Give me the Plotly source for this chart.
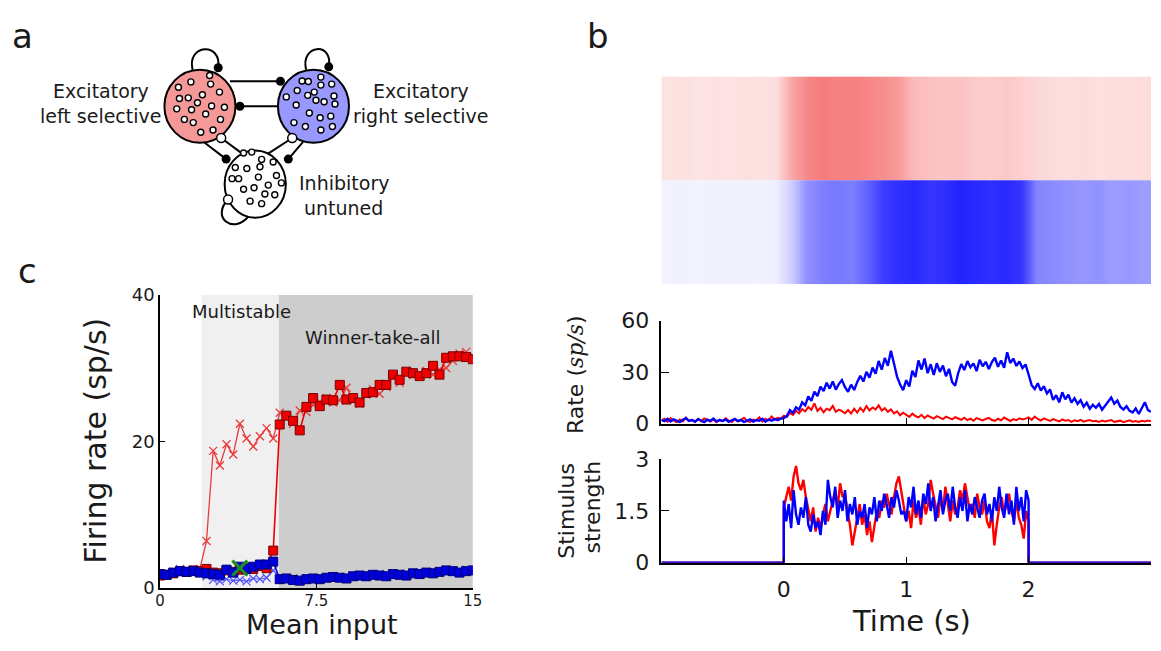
import plotly.graph_objects as go

W, H = 1161, 651
FONT = "DejaVu Sans"
TXT = "#1a1a1a"

# ---------------- panel c: firing rate vs mean input ----------------
mean_input = [0.0, 0.32, 0.64, 0.96, 1.28, 1.6, 1.91, 2.23, 2.55, 2.87, 3.19, 3.51, 3.83, 4.15, 4.47, 4.79,
              5.11, 5.43, 5.74, 6.06, 6.38, 6.7, 7.02, 7.34, 7.66, 7.98, 8.3, 8.62, 8.94, 9.26, 9.57, 9.89,
              10.21, 10.53, 10.85, 11.17, 11.49, 11.81, 12.13, 12.45, 12.77, 13.09, 13.4, 13.72, 14.04, 14.36,
              14.68, 15.0]
red_squares = [1.7, 1.8, 2.0, 2.3, 2.2, 2.4, 2.3, 2.6, 2.1, 2.0, 2.4, 2.2, 2.5, 2.7, 2.6, 3.0, 2.7, 5.1,
               22.3, 23.5, 22.8, 21.5, 24.7, 25.9, 24.8, 25.7, 25.6, 27.7, 25.7, 25.9, 25.3, 26.6, 26.7, 27.7,
               27.7, 29.1, 28.4, 29.5, 29.3, 28.9, 29.3, 30.3, 29.1, 31.4, 31.6, 31.6, 31.5, 31.2]
red_crosses = [1.6, 1.9, 2.2, 2.4, 2.3, 2.5, 2.6, 6.4, 18.7, 16.7, 19.6, 18.2, 22.4, 20.4, 19.3, 20.7,
               21.8, 20.4, 23.9, 23.5, 22.4, 24.2, 24.0, 25.0, 25.4, 25.9, 25.3, 25.6, 27.3, 25.8, 25.1, 26.4,
               27.1, 26.5, 27.4, 28.8, 28.0, 29.6, 29.0, 29.2, 29.6, 29.1, 29.8, 30.0, 31.0, 32.0, 32.2, 31.6]
blue_squares = [1.9, 1.8, 2.1, 2.3, 2.2, 2.3, 2.1, 2.0, 1.9, 1.8, 2.5, 2.1, 2.9, 2.6, 2.9, 3.2, 3.2, 3.6,
                1.2, 1.3, 1.1, 1.0, 1.2, 1.3, 1.2, 1.4, 1.5, 1.4, 1.3, 1.6, 1.7, 1.6, 1.8, 1.7, 1.6, 1.9,
                1.8, 1.7, 2.0, 1.9, 2.1, 2.0, 2.2, 2.4, 2.3, 2.1, 2.3, 2.4]
blue_crosses = [1.8, 2.0, 2.2, 2.6, 2.4, 2.3, 2.2, 1.6, 1.1, 0.9, 1.2, 1.0, 1.1, 0.9, 1.3, 1.2, 1.4, 2.4,
                1.4, 1.2, 1.3, 1.1, 1.3, 1.2, 1.4, 1.3, 1.6, 1.5, 1.4, 1.7, 1.6, 1.8, 1.7, 1.9, 1.8, 1.7,
                2.0, 1.9, 2.1, 2.0, 2.2, 2.1, 2.3, 2.5, 2.2, 2.4, 2.5, 2.3]
green_point_x = [3.83]
green_point_y = [2.7]
regime_edges = [2.0, 5.7, 15.0]          # multistable / winner-take-all boundaries
regime_labels = ["Multistable", "Winner-take-all"]

# ---------------- panel b: rates over time ----------------
t_rate = [round(-1 + 0.025 * i, 3) for i in range(161)]  # sample times (s)
blue_rate = [2.1, 1.4, 2.8, 1.2, 2.5, 1.7, 0.9, 2.2, 3.1, 1.5, 2.0, 1.1, 2.6, 1.8, 0.8, 2.3, 1.6, 2.9, 1.3, 2.0,
             1.5, 2.4, 1.0, 1.9, 2.7, 1.4, 2.2, 0.9, 1.8, 2.5, 1.2, 2.0, 1.6, 2.8, 1.1, 2.3, 1.7, 2.6, 2.0, 2.9,
             3.2, 4.5, 7.8, 6.2, 9.5, 8.1, 12.4, 10.6, 15.8, 13.2, 18.6, 16.0, 21.5, 18.9, 23.8, 20.4, 24.6, 19.8,
             23.1, 25.4, 21.2, 18.5, 22.7, 19.6, 24.3, 27.8, 24.5, 30.2, 26.8, 32.6, 29.1, 36.5, 31.4, 38.2, 33.7,
             42.5, 35.0, 27.4, 22.8, 19.5,
             25.3, 21.6, 30.8, 27.2, 36.8, 31.5, 37.9, 29.4, 34.6, 28.3, 35.2, 30.1, 33.8, 27.6, 31.9, 24.2, 22.0,
             29.5, 34.7, 31.2, 36.4, 32.8, 35.1, 30.6, 37.2, 33.4, 36.0, 31.8, 35.9, 38.4, 33.1, 36.8, 32.5, 41.6,
             35.3, 37.9, 33.6, 36.2, 32.4, 34.5,
             28.6, 22.4, 20.1, 23.5, 19.2, 21.8, 17.6, 19.9, 13.8, 16.5, 12.4, 18.2, 14.1, 16.9, 12.2, 14.8, 11.5,
             13.6, 9.8, 12.1, 8.6, 10.9, 9.2, 11.4, 8.1, 10.5, 12.8, 15.2, 11.6, 13.4, 9.7, 8.2, 10.1, 7.4, 6.5,
             8.8, 5.6, 9.3, 12.4, 7.8, 6.9]
red_rate = [1.5, 2.8, 1.0, 3.2, 1.8, 0.8, 2.4, 1.2, 3.5, 1.6, 2.1, 0.9, 2.7, 1.3, 3.0, 1.9, 1.1, 2.5, 0.7, 2.2,
            1.4, 3.1, 1.7, 0.9, 2.6, 1.3, 2.0, 3.4, 1.5, 1.0, 2.3, 1.8, 3.6, 1.2, 2.7, 1.9, 4.1, 2.4, 3.3, 2.8,
            4.6, 3.8, 6.2, 5.1, 7.5, 6.0, 8.4, 7.1, 9.6, 8.0, 11.8, 7.4, 9.2, 6.5, 8.7, 7.8, 10.3, 6.9, 8.1, 7.2,
            6.0, 7.9, 5.8, 8.6, 6.4, 9.1, 7.0, 10.2, 7.7, 9.4, 8.3, 10.6, 7.6, 9.0, 6.8, 8.2, 5.9, 7.1, 4.8, 6.3,
            5.2, 3.9, 5.8, 4.4, 3.6, 5.1, 3.2, 4.7, 3.8, 2.9, 4.3, 3.5, 2.6, 4.0, 3.1, 2.4, 3.7, 2.8, 2.2, 3.4,
            2.0, 2.9, 1.7, 3.2, 2.5, 1.8, 2.7, 3.3, 2.1, 1.6, 2.8, 1.9, 3.5, 2.3, 1.5, 2.6, 2.0, 3.0, 2.4, 2.9,
            3.6, 2.2, 4.1, 2.7, 1.8, 3.0, 2.3, 1.5, 2.6, 1.9, 1.2, 2.4, 1.7, 2.1, 1.0, 1.9, 1.4, 2.2, 1.1, 1.7,
            2.0, 1.3, 1.6, 0.9, 1.8, 1.2, 1.5, 2.1, 1.0, 1.4, 1.7, 0.8, 1.3, 1.9, 1.1, 1.5, 0.9, 1.6, 1.2, 1.8,
            1.4]

# ---------------- panel b: stimulus strength (on between 0 and 2 s) ----------------
t_stim = [round(0.02 * i, 2) for i in range(101)]  # sample times (s)
red_stim = [1.6, 1.9, 2.2, 1.8, 2.5, 2.8, 2.3, 2.1, 2.4, 1.9, 1.5, 1.2, 1.6, 0.9, 1.3, 1.0, 1.4, 1.7, 1.2, 1.5,
            1.8, 2.1, 1.6, 2.3, 1.9, 2.0, 1.5, 1.1, 0.5, 0.9, 1.3, 1.7, 1.1, 1.4, 0.8, 1.2, 0.6, 1.0, 1.5, 1.3,
            1.8, 1.6, 2.0, 1.7, 1.4, 1.9, 2.3, 2.5, 2.1, 1.6, 1.2, 1.5, 1.0, 1.8, 1.3, 1.6, 1.1, 1.9, 1.4, 1.7,
            2.4, 2.0, 1.6, 1.3, 1.9, 1.5, 2.2, 1.7, 1.2, 1.8, 1.4, 1.6, 2.1, 1.8, 2.3, 1.9, 1.5, 1.7, 1.3, 2.0,
            1.6, 1.4, 1.8, 1.2, 1.0, 1.5, 0.5, 1.1, 1.6, 1.9, 1.4, 1.7, 2.0, 1.5, 1.2, 1.8, 1.3, 1.1, 0.7, 1.5,
            1.2]
blue_stim = [1.8, 1.2, 1.7, 1.0, 2.1, 1.4, 1.1, 1.6, 1.3, 1.9, 1.1, 0.9, 1.4, 1.0, 1.2, 0.8, 1.5, 1.1, 2.4, 1.9,
             1.6, 2.2, 1.3, 1.8, 1.5, 2.1, 1.2, 1.7, 1.4, 1.9, 1.1, 1.5, 1.3, 1.7, 1.0, 1.6, 1.4, 1.9, 1.2, 1.8,
             1.5, 2.0, 1.7, 1.3, 1.9, 1.6, 2.1, 1.8, 1.4, 1.5, 1.2, 1.9, 1.6, 2.2, 1.4, 1.8, 1.3, 2.0, 1.7, 2.3,
             1.5, 1.9, 1.2, 1.7, 2.1, 1.4, 1.8, 2.0, 1.5, 2.2, 1.6, 1.3, 1.9, 1.5, 2.1, 1.2, 1.7, 1.4, 1.9, 1.6,
             1.3, 1.8, 2.0, 1.4, 1.7, 1.2, 1.9, 1.5, 2.2, 1.6, 1.3, 2.0, 1.4, 1.8, 1.1, 2.2, 1.5, 1.9, 1.2, 2.1,
             1.8]

# ---------------- panel b: raster spike density (per 0.125 s bin) ----------------
raster_t = [round(-0.9375 + 0.125 * i, 4) for i in range(32)]  # bin centres (s)
red_density = [2.3, 2.5, 2.1, 2.4, 2.2, 2.6, 2.3, 2.7, 7.0, 9.5, 10.5, 10.0, 10.2, 9.6, 9.0, 8.0,
               5.5, 5.0, 4.6, 4.8, 4.2, 4.0, 4.4, 3.8, 3.2, 2.8, 2.6, 2.9, 2.5, 2.7, 2.6, 2.8]
blue_density = [2.0, 2.2, 1.9, 2.3, 2.1, 2.2, 2.0, 2.8, 8.0, 18.0, 21.0, 22.0, 21.0, 26.0, 32.0, 34.0,
                35.0, 33.0, 34.0, 36.0, 35.0, 34.0, 35.0, 33.0, 20.0, 19.0, 18.0, 17.0, 18.0, 16.0, 17.0, 16.0]

# ---------------- panel a: network diagram (pixel layout) ----------------
red_dots_x = [207.3, 188.3, 208.3, 175.7, 217.3, 200, 176.7, 185.7, 195, 209.3, 222.3, 174, 189, 203.3, 218.3,
              181.7, 190.7, 198.3, 210.7]
red_dots_y = [66, 72.7, 75, 78.3, 83.3, 86, 90, 89.3, 94.3, 97.7, 99, 100.7, 101.7, 106, 111.7, 111.7, 115,
              125, 122.7]
blue_dots_x = [320, 301, 307.3, 320, 331, 296, 306.7, 315, 323.3, 333.3, 285, 295, 334.3, 308.3, 319.3, 330,
               292.7, 304.3, 320, 331.7, 313.3]
blue_dots_y = [67.7, 71.7, 72.3, 76, 75, 81.7, 86.7, 91.7, 93.3, 87.3, 88.3, 96.7, 95.7, 105, 110, 108.3,
               115, 119, 122.7, 119, 83.3]
inh_dots_x = [241.7, 250, 260, 271.7, 233.3, 245, 258.3, 236.7, 230, 256.7, 275, 266.7, 280, 241.7, 252.3,
              263.3, 273.3, 248.3, 260]
inh_dots_y = [146.7, 145.7, 153.3, 156, 161.7, 162.7, 161, 173.3, 173.3, 171.7, 170, 180, 177.7, 184.3,
              182.7, 189.3, 190, 196.7, 199.3]
syn_exc_x = [279, 238, 224, 287, 216, 328]
syn_exc_y = [72, 98, 153, 153, 58, 57]
syn_inh_x = [219, 291, 226]
syn_inh_y = [131, 131, 195]

PX = dict(xref="x5", yref="y5")
fig = go.Figure()

# raster
fig.add_trace(go.Heatmap(x=raster_t, y=[1.25, 1.75], z=[red_density, red_density], zmin=0, zmax=12,
                         colorscale=[[0, "white"], [1, "rgb(245,105,105)"]], showscale=False, zsmooth="best",
                         xaxis="x2", yaxis="y2", hoverinfo="skip"))
fig.add_trace(go.Heatmap(x=raster_t, y=[0.25, 0.75], z=[blue_density, blue_density], zmin=0, zmax=36,
                         colorscale=[[0, "white"], [1, "rgb(35,35,255)"]], showscale=False, zsmooth="best",
                         xaxis="x2", yaxis="y2", hoverinfo="skip"))

# rate
fig.add_trace(go.Scatter(x=t_rate, y=red_rate, mode="lines", line=dict(color="#ff0000", width=2),
                         xaxis="x3", yaxis="y3"))
fig.add_trace(go.Scatter(x=t_rate, y=blue_rate, mode="lines", line=dict(color="#0000ff", width=2.4),
                         xaxis="x3", yaxis="y3"))

# stimulus (zero outside the 0-2 s window)
for vals, col in ((red_stim, "#ff0000"), (blue_stim, "#0000ff")):
    fig.add_trace(go.Scatter(x=[-1, t_stim[0]] + t_stim + [t_stim[-1], 3],
                             y=[0, 0] + vals + [0, 0], mode="lines",
                             line=dict(color=col, width=2.4), xaxis="x4", yaxis="y4"))

# panel c
fig.add_trace(go.Scatter(x=mean_input, y=red_crosses, mode="lines+markers",
                         line=dict(color="rgb(235,60,60)", width=1.3),
                         marker=dict(symbol="x-thin", size=8, line=dict(color="rgb(235,60,60)", width=1.3)),
                         xaxis="x", yaxis="y"))
fig.add_trace(go.Scatter(x=mean_input, y=blue_crosses, mode="lines+markers",
                         line=dict(color="rgb(80,80,255)", width=1.1),
                         marker=dict(symbol="x-thin", size=8, line=dict(color="rgb(80,80,255)", width=1.2)),
                         xaxis="x", yaxis="y"))
fig.add_trace(go.Scatter(x=mean_input, y=red_squares, mode="lines+markers",
                         line=dict(color="#ee0000", width=1.6),
                         marker=dict(symbol="square", size=9, color="#ee0000", line=dict(color="#7a0000", width=1)),
                         xaxis="x", yaxis="y"))
fig.add_trace(go.Scatter(x=mean_input, y=blue_squares, mode="lines+markers",
                         line=dict(color="#0000dd", width=1.6),
                         marker=dict(symbol="square", size=9, color="#0000dd", line=dict(color="#00007a", width=1)),
                         xaxis="x", yaxis="y"))
fig.add_trace(go.Scatter(x=green_point_x, y=green_point_y, mode="markers",
                         marker=dict(symbol="x-thin", size=15, line=dict(color="#1e8c1e", width=3.2)),
                         xaxis="x", yaxis="y"))

# diagram dots
for xs, ys in ((red_dots_x, red_dots_y), (blue_dots_x, blue_dots_y), (inh_dots_x, inh_dots_y)):
    fig.add_trace(go.Scatter(x=xs, y=ys, mode="markers", xaxis="x5", yaxis="y5",
                             marker=dict(size=6, color="white", line=dict(color="black", width=1.4))))
fig.add_trace(go.Scatter(x=syn_exc_x, y=syn_exc_y, mode="markers", xaxis="x5", yaxis="y5",
                         marker=dict(size=9, color="black")))
fig.add_trace(go.Scatter(x=syn_inh_x, y=syn_inh_y, mode="markers", xaxis="x5", yaxis="y5",
                         marker=dict(size=9, color="white", line=dict(color="black", width=1.5))))

shapes = []
# regime shading in panel c
shapes.append(dict(type="rect", xref="x", yref="y", x0=regime_edges[0], x1=regime_edges[1], y0=0, y1=40,
                   fillcolor="#f0f0f0", line=dict(width=0), layer="below"))
shapes.append(dict(type="rect", xref="x", yref="y", x0=regime_edges[1], x1=regime_edges[2], y0=0, y1=40,
                   fillcolor="#cdcdcd", line=dict(width=0), layer="below"))

# diagram connections
def seg(x0, y0, x1, y1):
    shapes.append(dict(type="line", x0=x0, y0=y0, x1=x1, y1=y1, line=dict(color="black", width=2),
                       layer="below", **PX))

seg(228, 72, 279, 72)
seg(238, 98, 277, 98)
seg(201, 135, 224, 153)
seg(240, 147, 219, 131)
seg(302, 135, 287, 153)
seg(267, 147, 291, 131)
for p in ("M 190,60 C 184,33 220,31 216,58", "M 305,60 C 299,33 333,31 328,57",
          "M 226,195 C 208,214 232,232 247,212"):
    shapes.append(dict(type="path", path=p, line=dict(color="black", width=2),
                       fillcolor="rgba(0,0,0,0)", layer="below", **PX))
for cx, cy, rx, ry, fc in ((197.5, 98, 36, 38, "rgb(244,152,152)"), (312.5, 98, 36, 38, "rgb(152,152,255)"),
                           (253.5, 179, 31, 35, "white")):
    shapes.append(dict(type="circle", x0=cx - rx, x1=cx + rx, y0=cy - ry, y1=cy + ry,
                       fillcolor=fc, line=dict(color="black", width=2), layer="below", **PX))

ann = []
def text(x, y, s, size, angle=0, **kw):
    ann.append(dict(x=x, y=y, text=s, showarrow=False, textangle=angle, xanchor="center", yanchor="middle",
                    font=dict(family=FONT, size=size, color=TXT), **PX, **kw))

text(18, 24.5, "a", 34)
text(601, 25, "b", 34)
text(22.5, 269, "c", 34)
text(97, 82, "Excitatory", 19)
text(97, 108, "left selective", 19)
text(421, 82, "Excitatory", 19)
text(421, 108, "right selective", 19)
text(343, 178, "Inhibitory", 19)
text(343, 204, "untuned", 19)
text(240, 311, regime_labels[0], 18)
text(373, 338, regime_labels[1], 18)
text(92, 446, "Firing rate (sp/s)", 30, -90)
text(321, 636.5, "Mean input", 27)
text(918, 633, "Time (s)", 29)
text(578, 377, "Rate (<span style='font-family:DejaVu Serif;font-style:italic'>sp/s</span>)", 22, -90)
text(568, 519, "Stimulus", 22, -90)
text(595, 515, "strength", 22, -90)

def fx(p): return p / W
def fy(p): return 1 - p / H

axline = dict(showline=True, linecolor="black", linewidth=1.5, showgrid=False, zeroline=False,
              ticks="inside", tickcolor="black", tickwidth=1.2)

fig.update_layout(
    width=W, height=H, margin=dict(l=0, r=0, t=0, b=0),
    paper_bgcolor="white", plot_bgcolor="rgba(0,0,0,0)", showlegend=False,
    font=dict(family=FONT, color=TXT),
    shapes=shapes, annotations=ann,
    xaxis=dict(domain=[fx(157), fx(474)], range=[0, 15], anchor="y", tickvals=[0, 7.5, 15],
               ticktext=["0", "7.5", "15"], ticklen=5, tickfont=dict(size=15, color=TXT),
               ticklabelstandoff=-2, **axline),
    yaxis=dict(domain=[fy(599), fy(294)], range=[0, 40], anchor="x", tickvals=[0, 20, 40],
               ticklen=5, tickfont=dict(size=18, color=TXT), **axline),
    xaxis2=dict(domain=[fx(665), 1.0], range=[-1, 3], anchor="y2", visible=False),
    yaxis2=dict(domain=[fy(283), fy(67)], range=[0, 2], anchor="x2", visible=False),
    xaxis3=dict(domain=[fx(665), 1.0], range=[-1, 3], anchor="y3", tickvals=[0, 1, 2], ticklen=6,
                showticklabels=False, **axline),
    yaxis3=dict(domain=[fy(428), fy(321)], range=[0, 60], anchor="x3", tickvals=[0, 30, 60], ticklen=8,
                tickfont=dict(size=22, color=TXT), ticklabelstandoff=6, **axline),
    xaxis4=dict(domain=[fx(665), 1.0], range=[-1, 3], anchor="y4", tickvals=[0, 1, 2], ticklen=6,
                tickfont=dict(size=22, color=TXT), ticklabelstandoff=6, **axline),
    yaxis4=dict(domain=[fy(572.7), fy(465)], range=[0, 3], anchor="x4", tickvals=[0, 1.5, 3],
                ticktext=["0", "1.5", "3"], ticklen=8, tickfont=dict(size=22, color=TXT),
                ticklabelstandoff=6, **axline),
    xaxis5=dict(domain=[0, 1], range=[0, W], anchor="y5", visible=False, fixedrange=True),
    yaxis5=dict(domain=[0, 1], range=[H, 0], anchor="x5", visible=False, fixedrange=True),
)

fig.write_html("out.html")
